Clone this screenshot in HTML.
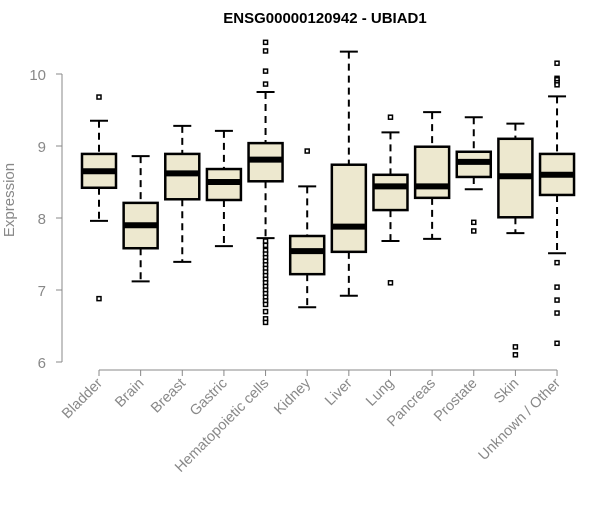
<!DOCTYPE html>
<html><head><meta charset="utf-8"><style>
body{margin:0;background:#fff}
svg{font-family:"Liberation Sans",Arial,sans-serif}
</style></head><body>
<svg id="chart" width="600" height="500"></svg>
<script>
const categories=["Bladder","Brain","Breast","Gastric","Hematopoietic cells","Kidney","Liver","Lung","Pancreas","Prostate","Skin","Unknown / Other"];
const whiskerLow=[7.96,7.12,7.39,7.61,7.72,6.76,6.92,7.68,7.71,8.40,7.79,7.51];
const q1=[8.42,7.58,8.26,8.25,8.51,7.22,7.53,8.11,8.28,8.57,8.01,8.32];
const median=[8.65,7.90,8.62,8.50,8.81,7.54,7.88,8.44,8.44,8.78,8.58,8.60];
const q3=[8.89,8.21,8.89,8.68,9.04,7.75,8.74,8.60,8.99,8.92,9.10,8.89];
const whiskerHigh=[9.35,8.86,9.28,9.21,9.75,8.44,10.31,9.19,9.47,9.40,9.31,9.69];
const outliers=[[9.68,6.88],[],[],[],[10.44,10.32,10.04,9.86,7.68,7.62,7.55,7.5,7.45,7.4,7.35,7.3,7.25,7.2,7.15,7.1,7.05,7.0,6.95,6.9,6.85,6.8,6.7,6.6,6.55],[8.93],[],[9.4,7.1],[],[7.94,7.82],[6.21,6.10],[10.15,9.94,9.92,9.88,9.85,7.38,7.04,6.86,6.68,6.26]];
const yTicks=[6,7,8,9,10];
const NS="http://www.w3.org/2000/svg";
const svg=document.getElementById('chart');
const y=v=>362-(v-6)*72;
const x=i=>99+i*41.64;
function mk(t,a){const e=document.createElementNS(NS,t);for(const k in a)e.setAttribute(k,a[k]);svg.appendChild(e);return e;}
let t=mk('text',{x:325,y:23,'text-anchor':'middle','font-size':15,'font-weight':'bold'});t.textContent="ENSG00000120942 - UBIAD1";


t=mk('text',{x:0,y:0,transform:'translate(14,200) rotate(-90)','text-anchor':'middle','font-size':15,fill:'#888'});t.textContent="Expression";


let ax=mk('line',{x1:62,x2:62,y1:y(10),y2:y(6),stroke:'#888'});


yTicks.forEach(v=>{mk('line',{x1:56,x2:62,y1:y(v),y2:y(v),stroke:'#888'});
const l=mk('text',{x:46,y:y(v)+6,'text-anchor':'end','font-size':15,fill:'#888'});l.textContent=v;

});
ax=mk('line',{x1:x(0),x2:x(11),y1:370,y2:370,stroke:'#888'});


categories.forEach((c,i)=>{
const cx=x(i);
mk('line',{x1:cx,x2:cx,y1:370,y2:376,stroke:'#888'});
const l=mk('text',{x:0,y:0,transform:`translate(${cx+4},${384}) rotate(-45)`,'text-anchor':'end','font-size':14.5,fill:'#888'});l.textContent=c;


const g=document.createElementNS(NS,'g');svg.appendChild(g);


const add=(tg,a)=>{const e=document.createElementNS(NS,tg);for(const k in a)e.setAttribute(k,a[k]);g.appendChild(e);return e;};
add('line',{x1:cx,x2:cx,y1:y(whiskerHigh[i]),y2:y(q3[i]),stroke:'#000','stroke-width':2,'stroke-dasharray':'7,5'});
add('line',{x1:cx,x2:cx,y1:y(q1[i]),y2:y(whiskerLow[i]),stroke:'#000','stroke-width':2,'stroke-dasharray':'7,5'});
add('line',{x1:cx-9,x2:cx+9,y1:y(whiskerHigh[i]),y2:y(whiskerHigh[i]),stroke:'#000','stroke-width':2});
add('line',{x1:cx-9,x2:cx+9,y1:y(whiskerLow[i]),y2:y(whiskerLow[i]),stroke:'#000','stroke-width':2});
add('rect',{x:cx-17,y:y(q3[i]),width:34,height:y(q1[i])-y(q3[i]),fill:'#ede8cf',stroke:'#000','stroke-width':2.5});
add('line',{x1:cx-17,x2:cx+17,y1:y(median[i]),y2:y(median[i]),stroke:'#000','stroke-width':6});
outliers[i].forEach(v=>add('rect',{x:cx-2,y:y(v)-2,width:4,height:4,fill:'#fff',stroke:'#000','stroke-width':1.5}));
});
</script>
</body></html>
